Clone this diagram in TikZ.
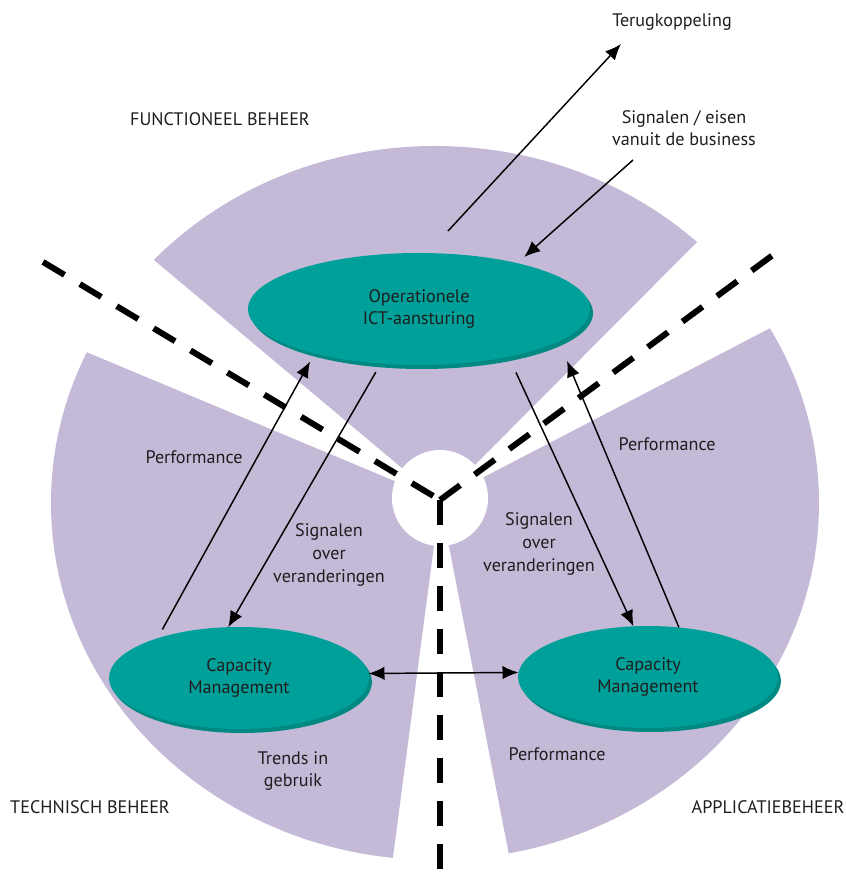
\documentclass[tikz,border=0pt]{standalone}
\usepackage{fontspec}
\setmainfont{PT Sans}
\usetikzlibrary{shapes.geometric, arrows.meta, shadows}

\definecolor{lila}{RGB}{196,186,216}
\definecolor{petrol}{RGB}{0,160,154}
\definecolor{petroldark}{RGB}{0,136,130}
\definecolor{ink}{RGB}{30,30,30}

\begin{document}
\begin{tikzpicture}[x=0.75pt, y=0.75pt]
    \tikzstyle{every node}=[font=\fontsize{13.6}{17}\selectfont, align=center, text=ink]
    \tikzset{
        sector/.style={fill=lila},
        divider/.style={line width=4.5pt, dash pattern=on 18.75pt off 13.5pt},
        link/.style={line width=1.1pt, >={Latex[length=12pt, width=10pt]}, ->},
        proc/.style={ellipse, fill=petrol, inner sep=0pt, outer sep=0pt,
            copy shadow={shadow xshift=2.25pt, shadow yshift=-3pt, fill=petroldark, draw=none}},
        opsbox/.style={proc, minimum width=256.5pt, minimum height=84pt},
        capbox/.style={proc, minimum width=195pt, minimum height=76.5pt}
        }
    \useasboundingbox (0,0) rectangle (846,872);

    %sectors
    \coordinate (c) at (440,372);
    \begin{scope}
        \clip (c) -- ([shift={(c)}]45.1:800) -- ([shift={(c)}]92.5:800) -- ([shift={(c)}]140:800) -- cycle;
        \fill[sector] (435,369) ellipse [x radius=384, y radius=357];
    \end{scope}
    \begin{scope}
        \clip (c) -- ([shift={(c)}]157.3:800) -- ([shift={(c)}]209.9:800) -- ([shift={(c)}]262.5:800) -- cycle;
        \fill[sector] (435,369) ellipse [x radius=384, y radius=357];
    \end{scope}
    \begin{scope}
        \clip (c) -- ([shift={(c)}]-79:800) -- ([shift={(c)}]-25.75:800) -- ([shift={(c)}]27.5:800) -- cycle;
        \fill[sector] (435,369) ellipse [x radius=384, y radius=357];
    \end{scope}
    \fill[white] (440,374) circle (48);

    %dividers
    \coordinate (dleft) at (43,610);
    \coordinate (dright) at (777,620);
    \coordinate (ddown) at (440,0);
    \draw[divider] (dleft) -- (c);
    \draw[divider] (c) -- (dright);
    \draw[divider] (c) -- (ddown);

    %processes
    \node (ops) [opsbox] at (419,563) {Operationele\\ICT-aansturing};
    \node (capl) [capbox] at (239,194) {Capacity\\Management};
    \node (capr) [capbox] at (648,195) {Capacity\\Management};

    %domains
    \node (fb) at (220,753) {FUNCTIONEEL BEHEER};
    \node (tb) at (90,65) {TECHNISCH BEHEER};
    \node (ab) at (768,65) {APPLICATIEBEHEER};

    %labels
    \node (terug) at (672,850) {Terugkoppeling};
    \node (eisen) at (684,744) {Signalen / eisen\\vanuit de business};
    \node (perfl) at (194,415) {Performance};
    \node (sigl) at (329,317) {Signalen\\over\\veranderingen};
    \node (sigr) at (539,328) {Signalen\\over\\veranderingen};
    \node (perfr) at (667,428) {Performance};
    \node (perfb) at (557,118) {Performance};
    \node (trends) at (293,101) {Trends in\\gebruik};

    %business
    \coordinate (terugstart) at (448,641);
    \coordinate (terugend) at (621,828);
    \coordinate (bizstart) at (633,712);
    \draw[link] (terugstart) -- (terugend);
    \draw[link, shorten >=7pt] (bizstart) -- (ops.25.3);

    %between the processes
    \draw[link, shorten <=7.5pt, shorten >=7pt] (capl.154.9) -- (ops.203.7);
    \draw[link, shorten <=7.4pt] (ops.235.9) -- (capl.102.8);
    \draw[link, shorten <=13pt] (ops.332.8) -- (capr.106.7);
    \draw[link, shorten >=16pt] (capr.58) -- (ops.347.6);
    \draw[link, <->] (capl.2) -- (capr.178);
\end{tikzpicture}
\end{document}
